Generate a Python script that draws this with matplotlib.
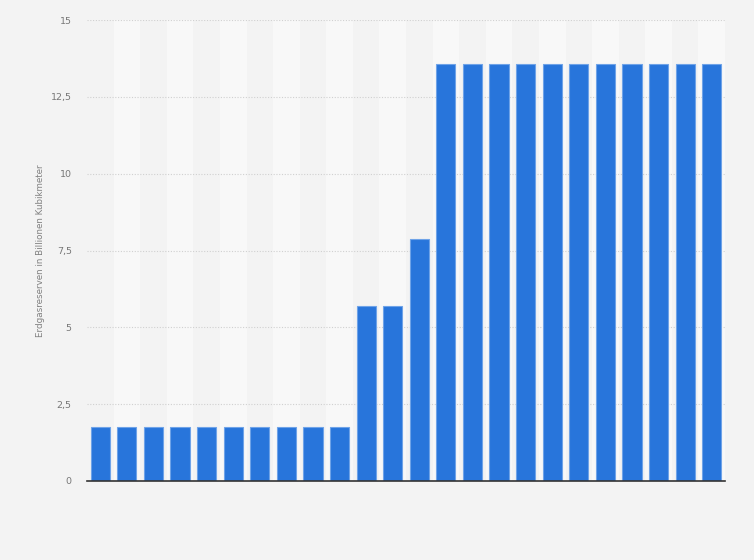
import matplotlib.pyplot as plt
from matplotlib.ticker import FuncFormatter

# Erdgasreserven (Billionen Kubikmeter), 24 Jahre, ohne Achsenbeschriftung
values = [1.77] * 10 + [5.69, 5.69, 7.87] + [13.57] * 11
positions = list(range(len(values)))
yticks = [0, 2.5, 5, 7.5, 10, 12.5, 15]

bg = "#f3f3f3"
fig = plt.figure(figsize=(7.54, 5.6), dpi=100, facecolor=bg)
ax = fig.add_axes([87 / 754, 79 / 560, 638 / 754, 461 / 560])
ax.set_facecolor(bg)

# alternating column bands
for i in positions:
    if i % 2 == 1:
        ax.axvspan(i - 0.5, i + 0.5, color="#f8f8f8", zorder=0, lw=0)

ax.bar(positions, values, width=0.72, color="#2875db", edgecolor="#6fa3e8",
       linewidth=0.8, zorder=3)

ax.set_xlim(-0.5, len(values) - 0.5)
ax.set_ylim(0, 15)
ax.set_yticks(yticks)
ax.yaxis.set_major_formatter(FuncFormatter(lambda v, p: ("%g" % v).replace(".", ",")))
ax.set_xticks([])
ax.tick_params(axis="y", length=0, pad=11, labelsize=6.8, labelcolor="#777777")
ax.grid(axis="y", color="#d0d0d0", linestyle=(0, (1, 1.5)), linewidth=0.8, zorder=1)

for s in ["top", "right", "left"]:
    ax.spines[s].set_visible(False)
ax.spines["bottom"].set_color("#333333")
ax.spines["bottom"].set_linewidth(1.2)
ax.spines["bottom"].set_zorder(4)

ax.set_ylabel("Erdgasreserven in Billionen Kubikmeter", fontsize=6.3,
              color="#808080")
ax.yaxis.set_label_coords(-42 / 638, 0.5)

fig.savefig("out.png", dpi=100, facecolor=bg)
